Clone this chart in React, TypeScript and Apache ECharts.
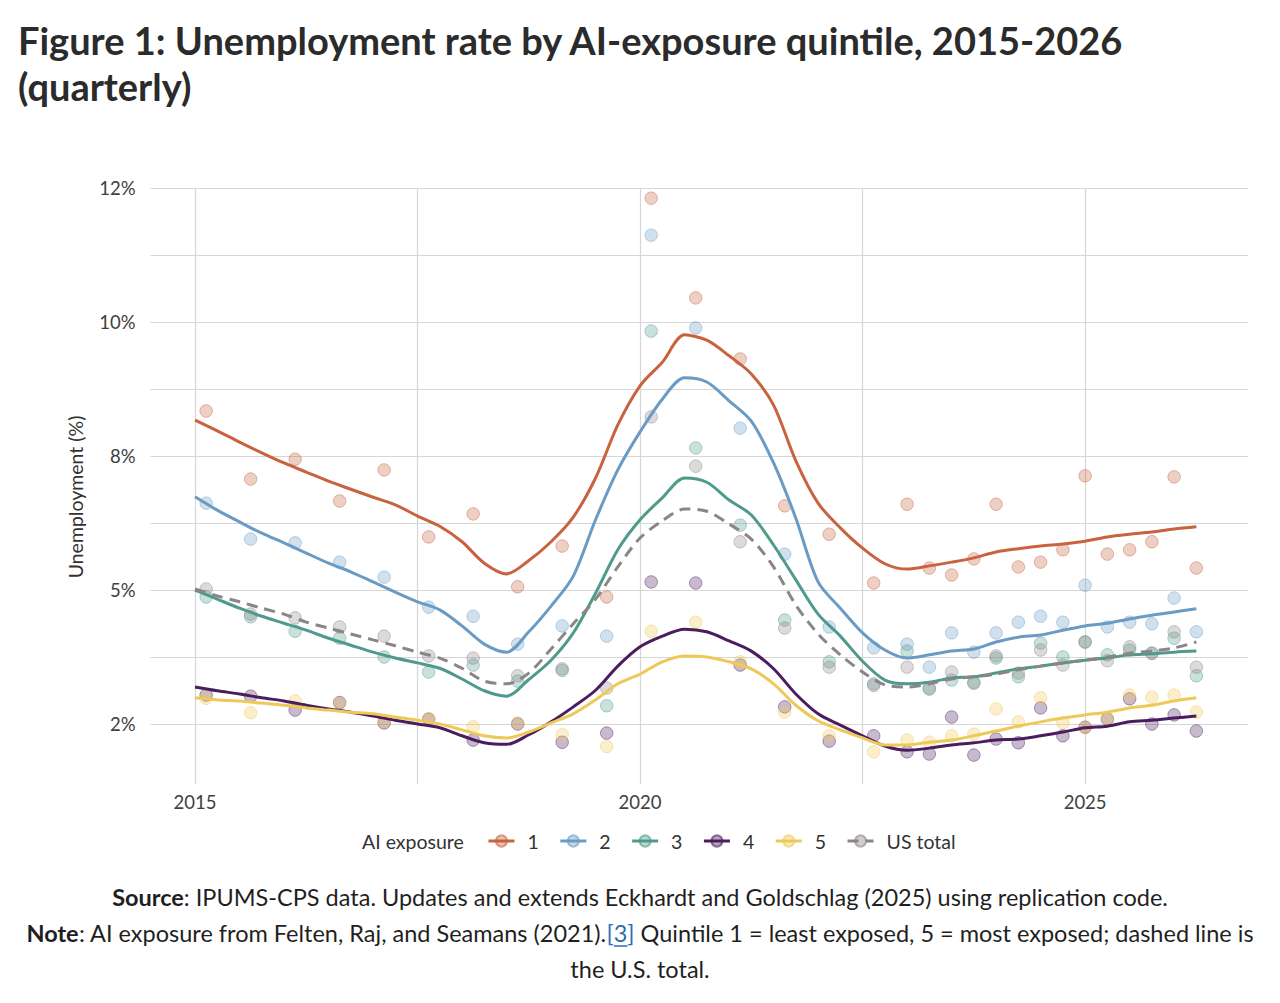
import { useEffect, useRef } from 'react';
import * as echarts from 'echarts';

// Survey periods for the individual estimates (decimal years)
const dotYears = [
  2015.125, 2015.625, 2016.125, 2016.625, 2017.125, 2017.625, 2018.125, 2018.625,
  2019.125, 2019.625, 2020.125, 2020.625, 2021.125, 2021.625, 2022.125, 2022.625,
  2023.0, 2023.25, 2023.5, 2023.75, 2024.0, 2024.25, 2024.5, 2024.75,
  2025.0, 2025.25, 2025.5, 2025.75, 2026.0, 2026.25,
];

// Quarterly grid for the smoothed trend lines
const trendYears = [
  2015.0, 2015.25, 2015.5, 2015.75, 2016.0, 2016.25, 2016.5, 2016.75,
  2017.0, 2017.25, 2017.5, 2017.75, 2018.0, 2018.25, 2018.5, 2018.75,
  2019.0, 2019.25, 2019.5, 2019.75, 2020.0, 2020.25, 2020.5, 2020.75,
  2021.0, 2021.25, 2021.5, 2021.75, 2022.0, 2022.25, 2022.5, 2022.75,
  2023.0, 2023.25, 2023.5, 2023.75, 2024.0, 2024.25, 2024.5, 2024.75,
  2025.0, 2025.25, 2025.5, 2025.75, 2026.0, 2026.25,
];

// Unemployment rate (%) by AI-exposure quintile: point estimates
const q1Rates = [8.34, 7.07, 7.44, 6.66, 7.24, 5.99, 6.42, 5.06, 5.82, 4.87, 12.31, 10.45, 9.31, 6.57, 6.04, 5.13, 6.60, 5.41, 5.28, 5.58, 6.60, 5.43, 5.52, 5.75, 7.13, 5.67, 5.75, 5.90, 7.11, 5.41];
const q2Rates = [6.62, 5.95, 5.88, 5.52, 5.24, 4.68, 4.51, 3.99, 4.33, 4.14, 11.62, 9.89, 8.02, 5.67, 4.31, 3.92, 3.99, 3.56, 4.20, 3.84, 4.20, 4.40, 4.51, 4.40, 5.09, 4.31, 4.40, 4.37, 4.85, 4.22];
const q3Rates = [4.87, 4.50, 4.23, 4.10, 3.75, 3.47, 3.60, 3.30, 3.50, 2.84, 9.83, 7.65, 6.21, 4.44, 3.66, 3.25, 3.86, 3.15, 3.32, 3.26, 3.73, 3.38, 4.01, 3.75, 4.03, 3.79, 3.88, 3.82, 4.10, 3.40];
const q4Rates = [3.04, 3.02, 2.76, 2.90, 2.52, 2.59, 2.20, 2.50, 2.16, 2.33, 5.15, 5.13, 3.60, 2.82, 2.18, 2.28, 1.98, 1.94, 2.63, 1.92, 2.22, 2.15, 2.80, 2.28, 2.44, 2.59, 2.97, 2.50, 2.67, 2.37];
const q5Rates = [2.98, 2.71, 2.93, 2.88, 2.55, 2.60, 2.45, 2.52, 2.30, 2.08, 4.23, 4.40, 3.66, 2.72, 2.28, 1.98, 2.20, 2.16, 2.28, 2.31, 2.78, 2.54, 2.99, 2.52, 2.43, 2.61, 3.04, 3.00, 3.04, 2.72];
const usRates = [5.02, 4.55, 4.48, 4.31, 4.14, 3.77, 3.73, 3.40, 3.53, 3.17, 8.23, 7.31, 5.90, 4.29, 3.56, 3.22, 3.56, 3.17, 3.47, 3.28, 3.77, 3.45, 3.88, 3.60, 4.03, 3.68, 3.94, 3.82, 4.22, 3.56];

// Smoothed trends (%)
const q1Trend = [8.17, 7.97, 7.76, 7.56, 7.37, 7.20, 7.03, 6.88, 6.73, 6.59, 6.38, 6.19, 5.90, 5.50, 5.30, 5.55, 5.90, 6.36, 7.09, 8.08, 8.81, 9.25, 9.76, 9.66, 9.37, 9.03, 8.45, 7.41, 6.62, 6.16, 5.78, 5.49, 5.39, 5.45, 5.52, 5.60, 5.71, 5.77, 5.82, 5.86, 5.91, 5.99, 6.04, 6.08, 6.14, 6.18];
const q2Trend = [6.74, 6.49, 6.27, 6.06, 5.88, 5.69, 5.50, 5.34, 5.15, 4.96, 4.78, 4.63, 4.33, 3.99, 3.84, 4.22, 4.70, 5.26, 6.31, 7.24, 7.95, 8.56, 8.96, 8.88, 8.53, 8.15, 7.37, 6.34, 5.15, 4.66, 4.20, 3.88, 3.73, 3.79, 3.86, 3.90, 4.03, 4.12, 4.16, 4.25, 4.33, 4.38, 4.46, 4.53, 4.59, 4.65];
const q3Trend = [5.00, 4.83, 4.66, 4.51, 4.38, 4.25, 4.10, 3.97, 3.84, 3.73, 3.64, 3.54, 3.34, 3.12, 3.02, 3.33, 3.69, 4.20, 4.94, 5.75, 6.31, 6.72, 7.09, 7.01, 6.68, 6.40, 5.84, 5.19, 4.55, 4.14, 3.67, 3.32, 3.25, 3.28, 3.36, 3.38, 3.45, 3.53, 3.58, 3.64, 3.69, 3.73, 3.79, 3.81, 3.84, 3.86];
const q4Trend = [3.19, 3.12, 3.06, 2.99, 2.93, 2.85, 2.78, 2.72, 2.65, 2.57, 2.50, 2.43, 2.28, 2.15, 2.12, 2.30, 2.54, 2.82, 3.13, 3.58, 3.94, 4.14, 4.27, 4.22, 4.05, 3.86, 3.53, 3.06, 2.69, 2.48, 2.28, 2.09, 2.01, 2.05, 2.11, 2.15, 2.20, 2.22, 2.28, 2.35, 2.43, 2.46, 2.54, 2.57, 2.61, 2.65];
const q5Trend = [2.99, 2.95, 2.93, 2.89, 2.85, 2.80, 2.76, 2.72, 2.69, 2.63, 2.57, 2.50, 2.39, 2.28, 2.24, 2.35, 2.52, 2.69, 2.95, 3.25, 3.43, 3.66, 3.77, 3.75, 3.66, 3.53, 3.25, 2.85, 2.56, 2.39, 2.24, 2.11, 2.11, 2.16, 2.20, 2.28, 2.37, 2.46, 2.54, 2.61, 2.67, 2.72, 2.80, 2.85, 2.93, 2.99];
const usTrend = [5.02, 4.89, 4.78, 4.66, 4.55, 4.40, 4.29, 4.18, 4.07, 3.96, 3.84, 3.73, 3.54, 3.30, 3.25, 3.45, 3.90, 4.37, 4.83, 5.43, 5.97, 6.29, 6.51, 6.47, 6.23, 5.95, 5.43, 4.72, 4.18, 3.79, 3.47, 3.23, 3.19, 3.25, 3.34, 3.38, 3.43, 3.51, 3.58, 3.64, 3.69, 3.75, 3.82, 3.86, 3.92, 4.03];

const groupNames = ['1', '2', '3', '4', '5', 'US total'];
const groupRates = [q1Rates, q2Rates, q3Rates, q4Rates, q5Rates, usRates];
const groupTrends = [q1Trend, q2Trend, q3Trend, q4Trend, q5Trend, usTrend];

// Axis breaks and their printed labels
const yTickValues = [2.5, 5, 7.5, 10, 12.5];
const yTickLabels = ['2%', '5%', '8%', '10%', '12%'];
const xTickValues = [2015, 2020, 2025];
const xTickLabels = ['2015', '2020', '2025'];

const palette = ['#C9623F', '#6A9BC4', '#4F9A8C', '#4B1D5E', '#EEC957', '#8C8585'];
const FONT = 'Lato, "Noto Sans", sans-serif';
const GRID_COLOR = '#d6d6d6';
const CLEAR = 'rgba(0,0,0,0)';

function rgba(hex: string, a: number) {
  const n = parseInt(hex.slice(1), 16);
  return `rgba(${(n >> 16) & 255},${(n >> 8) & 255},${n & 255},${a})`;
}

function tickLabel(v: number, values: number[], labels: string[]) {
  for (let i = 0; i < values.length; i++) {
    if (Math.abs(v - values[i]) < 1e-6) return labels[i];
  }
  return '';
}

function textWidth(text: string, font: string) {
  const ctx = document.createElement('canvas').getContext('2d');
  if (!ctx) return text.length * 10;
  ctx.font = font;
  return ctx.measureText(text).width;
}

export default function App() {
  const ref = useRef<HTMLDivElement>(null);

  useEffect(() => {
    if (!ref.current) return;
    const chart = echarts.init(ref.current, null, { renderer: 'svg' });

    const series: any[] = [];
    groupNames.forEach((name, g) => {
      const color = palette[g];
      series.push({
        type: 'line',
        name,
        data: trendYears.map((x, i) => [x, groupTrends[g][i]]),
        smooth: 0.3,
        symbol: 'circle',
        showSymbol: false,
        silent: true,
        z: 4,
        lineStyle: {
          color,
          width: 3,
          type: name === 'US total' ? [11, 7] : 'solid',
        },
        itemStyle: { color: rgba(color, 0.4), borderColor: rgba(color, 0.6), borderWidth: 1 },
        emphasis: { disabled: true },
      });
    });
    groupNames.forEach((name, g) => {
      const color = palette[g];
      series.push({
        type: 'scatter',
        name,
        data: dotYears.map((x, i) => [x, groupRates[g][i]]),
        symbolSize: 12.5,
        silent: true,
        z: 2,
        itemStyle: { color: rgba(color, 0.38), borderColor: rgba(color, 0.55), borderWidth: 1 },
        emphasis: { disabled: true },
      });
    });

    // Footer note line with a bold lead-in and a reference marker
    const fs = 23.5;
    const regFont = `${fs}px ${FONT}`;
    const boldFont = `bold ${fs}px ${FONT}`;
    const noteLead = 'Note';
    const noteA = ': AI exposure from Felten, Raj, and Seamans (2021).';
    const noteRef = '[3]';
    const noteB = ' Quintile 1 = least exposed, 5 = most exposed; dashed line is';
    const wLead = textWidth(noteLead, boldFont);
    const wA = textWidth(noteA, regFont);
    const wRef = textWidth(noteRef, regFont);
    const wB = textWidth(noteB, regFont);
    const noteStart = 640 - (wLead + wA + wRef + wB) / 2;
    const ulX1 = noteStart + wLead + wA + textWidth('[', regFont);
    const ulX2 = ulX1 + textWidth('3', regFont);

    const rich = {
      b: { fontFamily: FONT, fontSize: fs, fontWeight: 'bold', fill: '#1f1f1f' },
      n: { fontFamily: FONT, fontSize: fs, fill: '#1f1f1f' },
      l: { fontFamily: FONT, fontSize: fs, fill: '#2f6db5' },
    };

    chart.setOption({
      animation: false,
      backgroundColor: '#ffffff',
      grid: {
        left: 150.5,
        right: 32,
        top: 188,
        bottom: 218.7,
        containLabel: false,
        outerBoundsMode: 'none',
      },
      xAxis: {
        type: 'value',
        min: 2014.5,
        max: 2026.83,
        interval: 0.125,
        axisLine: { show: false },
        axisTick: { show: false },
        axisLabel: {
          formatter: (v: number) => tickLabel(v, xTickValues, xTickLabels),
          fontFamily: FONT,
          fontSize: 18.5,
          color: '#404040',
          margin: 8,
        },
        splitLine: {
          show: true,
          lineStyle: {
            width: 1.2,
            color: Array.from({ length: 20 }, (_, i) => (i === 4 ? GRID_COLOR : CLEAR)),
          },
        },
      },
      yAxis: {
        type: 'value',
        min: 1.375,
        max: 12.5,
        interval: 0.125,
        axisLine: { show: false },
        axisTick: { show: false },
        axisLabel: {
          formatter: (v: number) => tickLabel(v, yTickValues, yTickLabels),
          fontFamily: FONT,
          fontSize: 18.5,
          color: '#404040',
          margin: 15,
        },
        splitLine: {
          show: true,
          lineStyle: {
            width: 1.2,
            color: Array.from({ length: 10 }, (_, i) => (i === 9 ? GRID_COLOR : CLEAR)),
          },
        },
      },
      legend: {
        data: groupNames,
        left: 487,
        top: 831,
        padding: 0,
        itemGap: 20,
        itemWidth: 26,
        itemHeight: 14,
        selectedMode: false,
        lineStyle: { width: 3 },
        textStyle: { fontFamily: FONT, fontSize: 19.5, color: '#333333', padding: [0, 0, 0, 8] },
      },
      graphic: [
        {
          type: 'text',
          x: 18,
          y: 40,
          silent: true,
          style: {
            text: 'Figure 1: Unemployment rate by AI-exposure quintile, 2015-2026',
            fontFamily: FONT,
            fontSize: 38,
            fontWeight: 'bold',
            fill: '#2b2b2b',
            align: 'left',
            verticalAlign: 'middle',
          },
        },
        {
          type: 'text',
          x: 18,
          y: 86,
          silent: true,
          style: {
            text: '(quarterly)',
            fontFamily: FONT,
            fontSize: 38,
            fontWeight: 'bold',
            fill: '#2b2b2b',
            align: 'left',
            verticalAlign: 'middle',
          },
        },
        {
          type: 'text',
          x: 75,
          y: 497,
          rotation: Math.PI / 2,
          silent: true,
          style: {
            text: 'Unemployment (%)',
            fontFamily: FONT,
            fontSize: 19.5,
            fill: '#333333',
            align: 'center',
            verticalAlign: 'middle',
          },
        },
        {
          type: 'text',
          x: 362,
          y: 841,
          silent: true,
          style: {
            text: 'AI exposure',
            fontFamily: FONT,
            fontSize: 19.5,
            fill: '#333333',
            align: 'left',
            verticalAlign: 'middle',
          },
        },
        {
          type: 'text',
          x: 640,
          y: 897,
          silent: true,
          style: {
            text: '{b|Source}{n|: IPUMS-CPS data. Updates and extends Eckhardt and Goldschlag (2025) using replication code.}',
            rich,
            align: 'center',
            verticalAlign: 'middle',
          },
        },
        {
          type: 'text',
          x: 640,
          y: 933,
          silent: true,
          style: {
            text: `{b|${noteLead}}{n|${noteA}}{l|${noteRef}}{n|${noteB}}`,
            rich,
            align: 'center',
            verticalAlign: 'middle',
          },
        },
        {
          type: 'line',
          silent: true,
          shape: { x1: ulX1, y1: 946, x2: ulX2, y2: 946 },
          style: { stroke: '#2f6db5', lineWidth: 1.5 },
        },
        {
          type: 'text',
          x: 640,
          y: 969,
          silent: true,
          style: {
            text: '{n|the U.S. total.}',
            rich,
            align: 'center',
            verticalAlign: 'middle',
          },
        },
      ],
      series,
    });

    return () => chart.dispose();
  }, []);

  return (
    <div
      ref={ref}
      style={{ position: 'fixed', left: 0, top: 0, width: 1280, height: 1003, background: '#ffffff' }}
    />
  );
}
